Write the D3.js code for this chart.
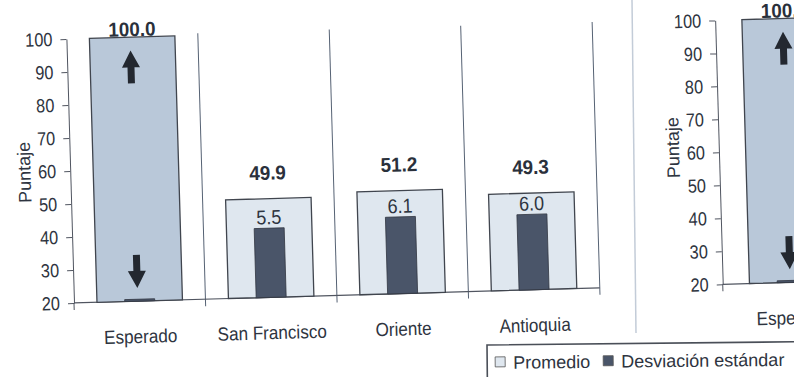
<!DOCTYPE html>
<html><head><meta charset="utf-8">
<script src="https://cdn.jsdelivr.net/npm/d3@7"></script>
<style>html,body{margin:0;padding:0;background:#fff;} svg{display:block;}</style>
</head><body><svg id="c" width="794" height="377"></svg>
<script>
// ---------- data ----------
const categories = ["Esperado", "San Francisco", "Oriente", "Antioquia"];
const promedio = [100.0, 49.9, 51.2, 49.3];
const promedioLabels = ["100.0", "49.9", "51.2", "49.3"];
const desviacion = [0.15, 5.5, 6.1, 6.0];
const desviacionLabels = ["", "5.5", "6.1", "6.0"];
const yTicks = [20, 30, 40, 50, 60, 70, 80, 90, 100];
const rightCategories = ["Esperado"];
const rightPromedio = [100.0];
const rightPromedioLabels = ["100.0"];
const rightDesviacion = [0.15];
const rightDesviacionLabels = [""];
const arrowUp = [96, 86];    // tip, tail (puntaje)
const arrowDown = [24, 34];  // tip, tail (puntaje)
const legendItems = ["Promedio", "Desviación estándar"];

// ---------- style ----------
const FONT = "'Liberation Sans', Arial, Helvetica, sans-serif";
const TXT = "#2e3440";
const C_ESP = "#b9c8d9", C_PROM = "#dfe7ef", C_DESV = "#4a5569";

const svg = d3.select("#c");
svg.append("rect").attr("width", 794).attr("height", 377).attr("fill", "#fff");

function squeeze(sel, f) {
  sel.each(function () {
    const w = this.getComputedTextLength();
    d3.select(this).attr("textLength", w * f).attr("lengthAdjust", "spacingAndGlyphs");
  });
}

const root = svg.append("g").attr("transform", "rotate(-1.65,73,303)");

function drawChart(g, o) {
  const y = d3.scaleLinear().domain([20, 100]).range([303, 39]);
  const ySD = d3.scaleLinear().domain([0, 21]).range([303, 39]);
  const x = d3.scaleBand().domain(o.cats).range(o.xr).padding(0);
  const bw = 85.5, dw = 30;

  // category gridlines / ticks
  const bounds = o.cats.map((c, i) => x(c) + x.bandwidth()).slice(0, o.gridCount);
  g.selectAll(".grid").data(bounds).join("line")
    .attr("x1", d => d).attr("x2", d => d)
    .attr("y1", y(100) - 2).attr("y2", y(20) + 7)
    .attr("stroke", "#566274").attr("stroke-width", 1);

  // y axis
  const ax = g.append("g").attr("transform", `translate(${o.xr[0]},0)`)
    .call(d3.axisLeft(y).tickValues(yTicks).tickSize(6).tickSizeOuter(0).tickPadding(8));
  ax.select(".domain").attr("stroke", "#505560");
  ax.selectAll(".tick line").attr("stroke", "#505560");
  ax.selectAll(".tick text").attr("font-family", FONT).attr("font-size", 19)
    .attr("fill", TXT).call(squeeze, 0.86);
  g.append("line").attr("x1", o.xr[0]).attr("x2", o.xr[0])
    .attr("y1", y(20)).attr("y2", y(20) + 7).attr("stroke", "#505560");

  // y title
  g.append("text").attr("transform", `translate(${o.xr[0] - 46},${o.titleY}) rotate(-90)`)
    .attr("text-anchor", "middle").attr("dy", "0.35em")
    .attr("font-family", FONT).attr("font-size", 18).attr("fill", TXT).text("Puntaje");

  // baseline
  g.append("line").attr("x1", o.xr[0]).attr("x2", o.xr[0] + x.bandwidth() * o.cats.length)
    .attr("y1", y(20)).attr("y2", y(20)).attr("stroke", "#505560").attr("stroke-width", 1.2);

  const cx = c => x(c) + x.bandwidth() / 2;

  // promedio bars
  g.selectAll(".prom").data(o.cats).join("rect")
    .attr("x", c => cx(c) - bw / 2).attr("width", bw)
    .attr("y", (c, i) => y(o.prom[i])).attr("height", (c, i) => y(20) - y(o.prom[i]))
    .attr("fill", c => c === "Esperado" ? C_ESP : C_PROM)
    .attr("stroke", "#40454e").attr("stroke-width", 1.3);

  // desviacion bars
  g.selectAll(".desv").data(o.cats).join("rect")
    .attr("x", c => cx(c) - dw / 2).attr("width", dw)
    .attr("y", (c, i) => ySD(o.desv[i])).attr("height", (c, i) => ySD(0) - ySD(o.desv[i]))
    .attr("fill", C_DESV).attr("stroke", "#323742").attr("stroke-width", 0.8);

  // desviacion labels
  g.selectAll(".dl").data(o.cats).join("text")
    .attr("x", cx).attr("y", (c, i) => ySD(o.desv[i]) - 4)
    .attr("text-anchor", "middle").attr("font-family", FONT).attr("font-size", 20)
    .attr("fill", TXT).text((c, i) => o.desvL[i]).call(squeeze, 0.9);

  // promedio labels
  g.selectAll(".pl").data(o.cats).join("text")
    .attr("x", cx)
    .attr("y", (c, i) => c === "Esperado" ? y(o.prom[i]) - 1 : y(o.prom[i]) - 19)
    .attr("text-anchor", "middle").attr("font-family", FONT).attr("font-weight", "bold")
    .attr("font-size", 20).attr("fill", "#2a303b").text((c, i) => o.promL[i]).call(squeeze, 0.94);

  // category labels
  g.selectAll(".cl").data(o.cats).join("text")
    .attr("x", cx).attr("y", 345)
    .attr("text-anchor", "middle").attr("font-family", FONT).attr("font-size", 19)
    .attr("fill", TXT).text(c => c).call(squeeze, 0.9);

  // arrows on Esperado
  const arrow = (xc, tip, tail) => {
    const yt = y(tip), yb = y(tail), s = Math.sign(yb - yt), hl = 17, hw = 9, sw = 3.5;
    return `M${xc},${yt} L${xc + hw},${yt + s * hl} L${xc + sw},${yt + s * hl} L${xc + sw},${yb}` +
      ` L${xc - sw},${yb} L${xc - sw},${yt + s * hl} L${xc - hw},${yt + s * hl} Z`;
  };
  o.cats.filter(c => c === "Esperado").forEach(c => {
    g.append("path").attr("d", arrow(cx(c) - 2, arrowUp[0], arrowUp[1])).attr("fill", "#232830");
    g.append("path").attr("d", arrow(cx(c) - 2, arrowDown[0], arrowDown[1])).attr("fill", "#232830");
  });
}

drawChart(root.append("g"), {
  cats: categories, prom: promedio, promL: promedioLabels,
  desv: desviacion, desvL: desviacionLabels, xr: [74, 600], gridCount: 4, titleY: 171
});
drawChart(root.append("g"), {
  cats: rightCategories, prom: rightPromedio, promL: rightPromedioLabels,
  desv: rightDesviacion, desvL: rightDesviacionLabels, xr: [723, 862], gridCount: 0, titleY: 165
});

// separator between the two charts
svg.append("line").attr("x1", 632).attr("y1", 0).attr("x2", 636).attr("y2", 333)
  .attr("stroke", "#c3ccd8").attr("stroke-width", 1.5);

// legend
const lg = svg.append("g").attr("transform", "rotate(-0.6,487,345)");
lg.append("rect").attr("x", 487).attr("y", 345).attr("width", 330).attr("height", 45)
  .attr("fill", "#fff").attr("stroke", "#4a4f58").attr("stroke-width", 1.6);
let lx = 495;
legendItems.forEach((t, i) => {
  lg.append("rect").attr("x", lx).attr("y", 357).attr("width", 10).attr("height", 10)
    .attr("fill", i === 0 ? C_PROM : C_DESV).attr("stroke", "#555").attr("stroke-width", 0.8);
  const tx = lg.append("text").attr("x", lx + 18).attr("y", 369)
    .attr("font-family", FONT).attr("font-size", 18).attr("fill", TXT).text(t);
  lx += 18 + tx.node().getComputedTextLength() + 13;
});
</script>
</body></html>
